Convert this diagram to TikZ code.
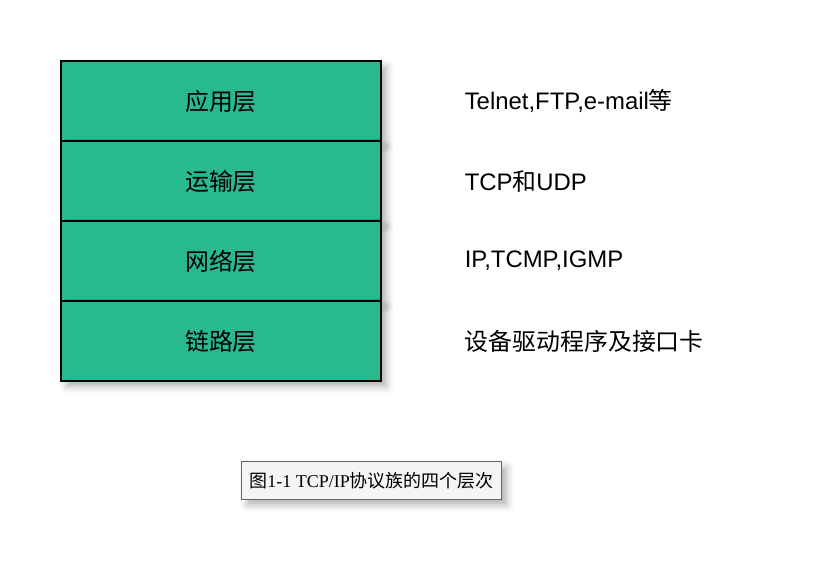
\documentclass[tikz,border=0pt]{standalone}
\usepackage{fontspec}
\setmainfont{Liberation Sans}
\newfontfamily\cjk{Noto Sans CJK SC}
\newfontfamily\capserif{Liberation Serif}
\usepackage{xcolor}
\usepackage{tikz}
\usetikzlibrary{positioning,shadows.blur}

\definecolor{layergreen}{RGB}{40,185,143}
\definecolor{capfill}{RGB}{245,245,245}
\definecolor{capdraw}{RGB}{100,100,100}

\begin{document}
\begin{tikzpicture}[
  node distance=0cm,
  layer/.style={rectangle,draw=black,line width=1.2pt,outer sep=0pt,fill=layergreen,minimum width=8cm,minimum height=2cm,font=\fontsize{17}{20}\selectfont\cjk,blur shadow={shadow xshift=4pt,shadow yshift=-4pt,shadow blur radius=5pt,shadow opacity=30}},
  proto/.style={anchor=west,font=\fontsize{17}{20}\selectfont},
  caption/.style={rectangle,draw=capdraw,line width=1pt,fill=capfill,minimum width=6.5cm,minimum height=0.95cm,font=\fontsize{12.8}{15}\selectfont,blur shadow={shadow xshift=4pt,shadow yshift=-4pt,shadow blur radius=5pt,shadow opacity=30}}
]
  \useasboundingbox (0,0) rectangle (20.6,-14.6);

  \node[layer] (app) at (5.525,-2.525) {应用层};
  \node[layer,below=of app] (trans) {运输层};
  \node[layer,below=of trans] (net) {网络层};
  \node[layer,below=of net] (link) {链路层};

  \node[proto,right=1.97cm of app] (appproto) {Telnet,FTP,e-mail{\cjk 等}};
  \node[proto,right=1.97cm of trans] (transproto) {TCP{\cjk 和}UDP};
  \node[proto,right=1.97cm of net] (netproto) {IP,TCMP,IGMP};
  \node[proto,right=1.97cm of link] (linkproto) {\cjk 设备驱动程序及接口卡};

  \node[caption] (fig) at (9.29,-12.01) {{\cjk 图}{\capserif 1-1 TCP/IP}{\cjk 协议族的四个层次}};
\end{tikzpicture}
\end{document}
